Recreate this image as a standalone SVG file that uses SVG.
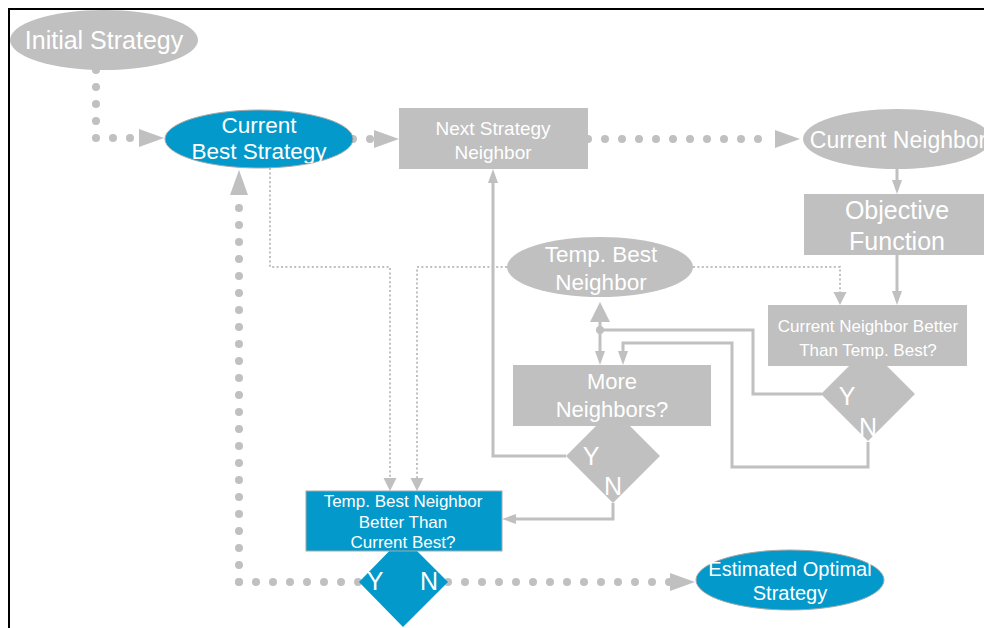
<svg xmlns="http://www.w3.org/2000/svg" width="984" height="628" viewBox="0 0 984 628">
<style>
text{font-family:"Liberation Sans",Arial,sans-serif;fill:#fff;text-anchor:middle}
.g{fill:#c0c0c0}
.b{fill:#0399cb;stroke:#a8a8a8;stroke-width:1}
.thick{fill:none;stroke:#c0c0c0;stroke-width:8;stroke-linecap:round;stroke-dasharray:0 17}
.thin{fill:none;stroke:#c0c0c0;stroke-width:2;stroke-dasharray:2 2.4}
.solid{fill:none;stroke:#c0c0c0;stroke-width:3}
</style>
<defs>
<marker id="mBig" markerUnits="userSpaceOnUse" markerWidth="26" markerHeight="20" refX="0" refY="9" orient="auto"><path d="M0,0 L25,9 L0,18 z" fill="#c0c0c0"/></marker>
<marker id="mSolid" markerUnits="userSpaceOnUse" markerWidth="14" markerHeight="12" refX="0" refY="5" orient="auto"><path d="M0,0 L14,5 L0,10 z" fill="#c0c0c0"/></marker>
<marker id="mThin" markerUnits="userSpaceOnUse" markerWidth="14" markerHeight="14" refX="0" refY="6.5" orient="auto"><path d="M0,0 L13,6.5 L0,13 z" fill="#c0c0c0"/></marker>
<clipPath id="cb"><rect x="150" y="100" width="220" height="63"/></clipPath>
</defs>
<path d="M9,628 V9 H984" fill="none" stroke="#000" stroke-width="2"/>
<g id="connectors">
<path class="thick" d="M96,70 V138 H139" marker-end="url(#mBig)"/>
<path class="thick" d="M353,139 H374" marker-end="url(#mBig)"/>
<path class="thick" d="M588,139 H775" marker-end="url(#mBig)"/>
<path class="thick" d="M239,582 V195" marker-end="url(#mBig)"/>
<path class="thick" d="M239,582 H360"/>
<path class="thick" d="M448,582 H670" marker-end="url(#mBig)"/>
<path class="thin" d="M270,168 V267 H390 V478" marker-end="url(#mThin)"/>
<path class="thin" d="M507,267 H417 V478" marker-end="url(#mThin)"/>
<path class="thin" d="M693,267 H840 V292" marker-end="url(#mThin)"/>
<path class="solid" d="M897,169 V180" marker-end="url(#mSolid)"/>
<path class="solid" d="M897,255 V291" marker-end="url(#mSolid)"/>
<path class="solid" d="M822,394 H753 V330 H600"/>
<path class="solid" d="M600,330 V322"/>
<polygon points="600,302 610,322 590,322" fill="#c0c0c0"/>
<path class="solid" d="M600,330 V351" marker-end="url(#mSolid)"/>
<circle cx="600" cy="330" r="4" fill="#c0c0c0"/>
<path class="solid" d="M868,442 V467 H732 V343 H623 V351" marker-end="url(#mSolid)"/>
<path class="solid" d="M566,456 H493 V183" marker-end="url(#mSolid)"/>
<path class="solid" d="M613,503 V519 H516" marker-end="url(#mSolid)"/>
</g>
<g id="initial-strategy">
<ellipse class="g" cx="104" cy="40" rx="94" ry="30"/>
<text x="104" y="49" font-size="25">Initial Strategy</text>
</g>
<g id="current-best">
<ellipse class="b" cx="259" cy="139" rx="94" ry="29"/>
<text x="259" y="133" font-size="22.5">Current</text>
<text x="259" y="159" font-size="22.5" clip-path="url(#cb)">Best Strategy</text>
</g>
<g id="next-strategy">
<rect class="g" x="399" y="108" width="189" height="61"/>
<text x="493" y="135" font-size="19">Next Strategy</text>
<text x="493" y="159" font-size="19">Neighbor</text>
</g>
<g id="current-neighbor">
<ellipse class="g" cx="897" cy="139" rx="94" ry="30"/>
<text x="898" y="148" font-size="23">Current Neighbor</text>
</g>
<g id="objective-function">
<rect class="g" x="804" y="194" width="186" height="61"/>
<text x="897" y="219" font-size="25">Objective</text>
<text x="897" y="250" font-size="25">Function</text>
</g>
<g id="temp-best-neighbor">
<ellipse class="g" cx="600" cy="267" rx="93" ry="30"/>
<text x="601" y="262" font-size="22.5">Temp. Best</text>
<text x="601" y="290" font-size="22.5">Neighbor</text>
</g>
<g id="cn-better">
<polygon class="g" points="868,347 915,394 868,441 821,394"/>
<rect class="g" x="768" y="305" width="199" height="61"/>
<text x="868" y="332" font-size="17">Current Neighbor Better</text>
<text x="868" y="356" font-size="17">Than Temp. Best?</text>
<text x="847" y="405" font-size="25">Y</text>
<text x="868" y="436" font-size="25">N</text>
</g>
<g id="more-neighbors">
<polygon class="g" points="613,409 660,456 613,503 566,456"/>
<rect class="g" x="513" y="365" width="198" height="61"/>
<text x="612" y="389" font-size="22">More</text>
<text x="612" y="417" font-size="22">Neighbors?</text>
<text x="591" y="465" font-size="25">Y</text>
<text x="613" y="495" font-size="25">N</text>
</g>
<g id="tb-better">
<polygon points="403,537 448,582 403,627 359,582" fill="#0399cb"/>
<rect class="b" x="306" y="491" width="196" height="60"/>
<text x="403" y="507" font-size="17">Temp. Best Neighbor</text>
<text x="403" y="528" font-size="17">Better Than</text>
<text x="403" y="548" font-size="17">Current Best?</text>
<text x="375" y="590" font-size="25">Y</text>
<text x="429" y="590" font-size="25">N</text>
</g>
<g id="estimated-optimal">
<ellipse class="b" cx="790" cy="580" rx="94" ry="30"/>
<text x="790" y="576" font-size="20">Estimated Optimal</text>
<text x="790" y="600" font-size="20">Strategy</text>
</g>
</svg>
